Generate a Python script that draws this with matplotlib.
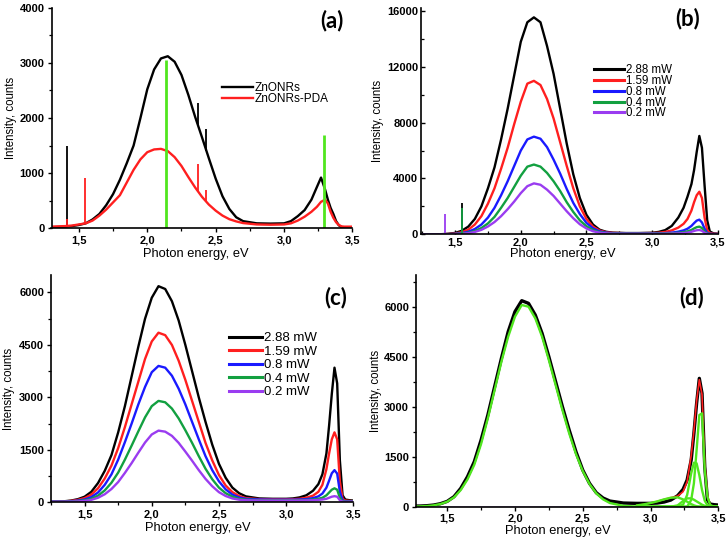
import matplotlib
matplotlib.use("Agg")
import matplotlib.pyplot as plt
from matplotlib.ticker import MultipleLocator, FuncFormatter

plt.rcParams['font.family'] = ['Liberation Sans', 'DejaVu Sans']

# ---------------- data ----------------
# photon energy grid (eV)
E = [1.25, 1.30, 1.35, 1.40, 1.45, 1.50, 1.55, 1.60, 1.65, 1.70,
     1.75, 1.80, 1.85, 1.90, 1.95, 2.00, 2.05, 2.10, 2.15, 2.20,
     2.25, 2.30, 2.35, 2.40, 2.45, 2.50, 2.55, 2.60, 2.65, 2.70,
     2.80, 2.90, 3.00, 3.05, 3.10, 3.15, 3.20, 3.24, 3.27, 3.30,
     3.32, 3.34, 3.36, 3.38, 3.40, 3.42, 3.44, 3.47, 3.50]

# panel (a)
a_labels = ["ZnONRs", "ZnONRs-PDA"]
a_znonrs = [20, 20, 25, 30, 40, 60, 90, 160, 260, 420,
            620, 880, 1180, 1500, 2000, 2520, 2880, 3080, 3120, 3020,
            2780, 2420, 2020, 1650, 1270, 900, 580, 350, 200, 130,
            90, 85, 90, 130, 220, 330, 520, 750, 920, 700,
            520, 370, 260, 130, 55, 20, 10, 10, 10]
a_pda = [30, 30, 35, 40, 50, 70, 90, 140, 230, 340,
         470, 600, 830, 1060, 1250, 1380, 1430, 1440, 1400, 1290,
         1130, 930, 740, 570, 430, 320, 230, 165, 125, 95,
         70, 65, 70, 90, 140, 210, 300, 390, 480, 520,
         450, 300, 190, 110, 60, 35, 30, 30, 30]
# narrow spikes: energy, bottom, top
a_spk_black_x = [1.41, 2.37, 2.43]
a_spk_black_lo = [30, 1850, 1400]
a_spk_black_hi = [1500, 2280, 1800]
a_spk_red_x = [1.41, 1.545, 2.37, 2.43]
a_spk_red_lo = [40, 90, 650, 470]
a_spk_red_hi = [160, 920, 1160, 700]
# green markers
a_mark_x = [2.14, 3.29]
a_mark_hi = [3050, 1700]

# panels (b), (c)
power_labels = ["2.88 mW", "1.59 mW", "0.8 mW", "0.4 mW", "0.2 mW"]

b_288 = [0, 0, 0, 10, 40, 100, 250, 550, 1100, 2000,
         3300, 4800, 6800, 9000, 11400, 13800, 15200, 15550, 15200, 13500,
         11500, 9000, 6500, 4300, 2600, 1400, 700, 330, 180, 120,
         90, 90, 110, 170, 300, 600, 1200, 1900, 2700, 3600,
         4600, 5900, 7050, 6200, 3500, 1000, 200, 60, 40]
b_159 = [0, 0, 0, 5, 20, 60, 150, 330, 700, 1300,
         2200, 3300, 4700, 6200, 7900, 9500, 10800, 11000, 10700, 9700,
         8300, 6600, 4900, 3300, 2000, 1100, 550, 270, 150, 100,
         80, 80, 90, 110, 170, 280, 480, 750, 1100, 1700,
         2300, 2800, 3050, 2600, 1200, 300, 100, 40, 30]
b_08 = [0, 0, 0, 5, 10, 30, 80, 180, 380, 700,
        1200, 1900, 2800, 3800, 4900, 6000, 6800, 7000, 6850, 6250,
        5350, 4350, 3250, 2250, 1450, 820, 430, 210, 120, 80,
        60, 60, 60, 70, 85, 120, 190, 280, 400, 600,
        800, 980, 1050, 850, 400, 100, 40, 20, 20]
b_04 = [0, 0, 0, 5, 10, 20, 50, 110, 230, 450,
        780, 1250, 1900, 2600, 3400, 4200, 4850, 5000, 4850, 4400,
        3800, 3100, 2300, 1600, 1000, 580, 300, 150, 90, 60,
        50, 50, 50, 55, 60, 75, 105, 150, 210, 310,
        420, 510, 550, 450, 200, 60, 20, 10, 10]
b_02 = [0, 0, 0, 5, 10, 15, 35, 80, 170, 320,
        560, 880, 1300, 1800, 2350, 2950, 3450, 3650, 3550, 3200,
        2750, 2200, 1650, 1150, 720, 420, 220, 120, 70, 50,
        40, 40, 40, 40, 45, 50, 65, 90, 120, 180,
        240, 290, 310, 250, 110, 40, 15, 10, 10]
b_spk_x = [1.55, 1.55, 1.42]
b_spk_lo = [250, 50, 0]
b_spk_hi = [2250, 1850, 1450]
b_spk_series = [0, 3, 4]

c_288 = [20, 20, 30, 50, 90, 160, 300, 550, 900, 1350,
         2000, 2750, 3600, 4450, 5250, 5850, 6180, 6100, 5750, 5200,
         4500, 3750, 3000, 2300, 1650, 1100, 700, 420, 260, 170,
         110, 100, 100, 110, 140, 200, 330, 520, 800, 1400,
         2200, 3100, 3850, 3400, 1200, 200, 80, 60, 50]
c_159 = [20, 20, 25, 40, 70, 120, 220, 400, 680, 1050,
         1550, 2150, 2800, 3450, 4100, 4600, 4850, 4780, 4500, 4050,
         3500, 2900, 2300, 1700, 1200, 780, 480, 290, 180, 120,
         90, 85, 85, 90, 100, 130, 190, 300, 500, 950,
         1400, 1800, 2000, 1800, 600, 100, 50, 40, 30]
c_08 = [20, 20, 20, 30, 50, 80, 150, 280, 500, 800,
        1220, 1720, 2250, 2800, 3300, 3720, 3900, 3850, 3620, 3250,
        2800, 2300, 1800, 1320, 920, 600, 370, 220, 140, 100,
        80, 75, 75, 75, 80, 90, 120, 170, 250, 420,
        620, 830, 920, 820, 300, 60, 30, 25, 20]
c_04 = [15, 15, 15, 20, 35, 55, 100, 190, 340, 560,
        850, 1220, 1620, 2030, 2430, 2750, 2900, 2860, 2680, 2400,
        2060, 1700, 1320, 960, 660, 420, 260, 160, 100, 75,
        60, 60, 60, 60, 60, 65, 80, 100, 130, 200,
        280, 360, 400, 360, 130, 30, 20, 15, 15]
c_02 = [15, 15, 15, 20, 25, 40, 70, 130, 230, 380,
        580, 840, 1120, 1420, 1710, 1940, 2050, 2020, 1900, 1700,
        1450, 1190, 920, 670, 460, 290, 180, 110, 75, 60,
        50, 50, 50, 50, 50, 55, 60, 70, 80, 100,
        130, 160, 175, 160, 60, 20, 15, 15, 15]

# panel (d): measured = 2.88 mW spectrum of (c); Gaussian fit components
d_fit_main = [5, 10, 20, 40, 80, 150, 280, 500, 820, 1260,
              1880, 2650, 3500, 4350, 5100, 5700, 6050, 6000, 5650, 5100,
              4400, 3650, 2900, 2200, 1580, 1070, 680, 400, 220, 110,
              25, 5, 0, 0, 0, 0, 0, 0, 0, 0,
              0, 0, 0, 0, 0, 0, 0, 0, 0]
E_uv = [2.90, 2.95, 3.00, 3.05, 3.10, 3.15, 3.20, 3.24, 3.27, 3.30,
        3.32, 3.34, 3.36, 3.38, 3.40, 3.42, 3.44, 3.47, 3.50]
d_c1 = [40, 70, 110, 160, 220, 270, 280, 220, 150, 80, 40, 15, 0, 0, 0, 0, 0, 0, 0]
d_c2 = [0, 0, 0, 0, 0, 0, 40, 170, 250, 250, 210, 160, 110, 60, 25, 5, 0, 0, 0]
d_c3 = [0, 0, 0, 0, 0, 0, 0, 60, 350, 1000, 1320, 1300, 950, 500, 180, 40, 0, 0, 0]
d_c4 = [0, 0, 0, 0, 0, 0, 0, 0, 0, 200, 700, 1700, 2750, 2800, 1100, 300, 50, 0, 0]
d_sum = [40, 70, 110, 160, 220, 270, 320, 450, 750, 1530,
         2270, 3175, 3810, 3360, 1305, 345, 50, 0, 0]
d_base_x = [1.25, 3.5]
d_base_y = [0, 0]

# ---------------- style ----------------
BLACK = '#000000'
RED = '#ff1f1f'
BLUE = '#1a1aff'
GREEN = '#12a040'
PURPLE = '#9a3cf0'
LIME = '#50e61e'
series_colors = [BLACK, RED, BLUE, GREEN, PURPLE]
LW = 1.7

W, H = 728, 540
fig = plt.figure(figsize=(W / 100, H / 100), dpi=100)


def make_axes(x0, x1, ytop, ybot):
    return fig.add_axes([x0 / W, 1 - ybot / H, (x1 - x0) / W, (ybot - ytop) / H])


comma = FuncFormatter(lambda v, p: f"{v:.1f}".replace('.', ','))


def style(ax, xlim, ylim, ymaj, ymin, direction, ylab_x, xlab_y, xlab_x=0.48):
    ax.set_xlim(*xlim)
    ax.set_ylim(*ylim)
    for s in ['top', 'right']:
        ax.spines[s].set_visible(False)
    for s in ['left', 'bottom']:
        ax.spines[s].set_linewidth(1.2)
    ax.xaxis.set_major_locator(MultipleLocator(0.5))
    ax.xaxis.set_minor_locator(MultipleLocator(0.25))
    ax.xaxis.set_major_formatter(comma)
    ax.yaxis.set_major_locator(MultipleLocator(ymaj))
    ax.yaxis.set_minor_locator(MultipleLocator(ymin))
    ax.tick_params(which='major', direction=direction, length=3, width=1.0,
                   labelsize=8, pad=2)
    ax.tick_params(which='minor', direction=direction, length=2, width=0.9)
    for t in ax.get_xticklabels() + ax.get_yticklabels():
        t.set_fontweight('bold')
    ax.set_ylabel("Intensity, counts", fontsize=8.3)
    ax.set_xlabel("Photon energy, eV", fontsize=9.3)
    ax.yaxis.set_label_coords(ylab_x, 0.5)
    ax.xaxis.set_label_coords(xlab_x, xlab_y)


# ---- (a)
axa = make_axes(51.5, 352.5, 7.7, 228.3)
axa.plot(E, a_znonrs, color=BLACK, lw=LW, label=a_labels[0])
axa.vlines(a_spk_black_x, a_spk_black_lo, a_spk_black_hi, color=BLACK, lw=1.3)
axa.plot(E, a_pda, color=RED, lw=LW, label=a_labels[1])
axa.vlines(a_spk_red_x, a_spk_red_lo, a_spk_red_hi, color=RED, lw=1.3)
axa.vlines(a_mark_x, [0, 0], a_mark_hi, color=LIME, lw=2.0)
style(axa, (1.3, 3.5), (0, 4000), 1000, 500, 'out', -0.115, -0.09)
leg = axa.legend(loc='upper left', bbox_to_anchor=(222 / W, 1 - 82 / H),
                 bbox_transform=fig.transFigure, frameon=False, fontsize=8.5,
                 handlelength=2.6, handletextpad=0.15, labelspacing=-0.05,
                 borderpad=0, borderaxespad=0)
axa.text(332 / W, 1 - 21 / H, "(a)", transform=fig.transFigure, ha='center',
         va='center', fontsize=16, fontweight='bold', family='Lato')

# ---- (b)
axb = make_axes(421, 717.7, 8.3, 234.3)
b_series = [b_288, b_159, b_08, b_04, b_02]
for ys, c, lab in zip(b_series, series_colors, power_labels):
    axb.plot(E, ys, color=c, lw=LW, label=lab)
for x, lo, hi, si in zip(b_spk_x, b_spk_lo, b_spk_hi, b_spk_series):
    axb.vlines(x, lo, hi, color=series_colors[si], lw=1.3)
style(axb, (1.24, 3.5), (0, 16200), 4000, 2000, 'in', -0.125, -0.062, 0.477)
leg = axb.legend(loc='upper left', bbox_to_anchor=(594 / W, 1 - 64 / H),
                 bbox_transform=fig.transFigure, frameon=False, fontsize=8.3,
                 handlelength=2.6, handletextpad=0.15, labelspacing=-0.1,
                 borderpad=0, borderaxespad=0)
for l in leg.get_lines():
    l.set_linewidth(2.2)
axb.text(688 / W, 1 - 19 / H, "(b)", transform=fig.transFigure, ha='center',
         va='center', fontsize=16, fontweight='bold', family='Lato')

# ---- (c)
axc = make_axes(51, 353.3, 275, 502.3)
c_series = [c_288, c_159, c_08, c_04, c_02]
for ys, c, lab in zip(c_series, series_colors, power_labels):
    axc.plot(E, ys, color=c, lw=LW, label=lab)
style(axc, (1.25, 3.5), (0, 6500), 1500, 750, 'out', -0.118, -0.088, 0.487)
leg = axc.legend(loc='upper left', bbox_to_anchor=(229 / W, 1 - 332 / H),
                 bbox_transform=fig.transFigure, frameon=False, fontsize=9.5,
                 handlelength=2.5, handletextpad=0.15, labelspacing=0.1,
                 borderpad=0, borderaxespad=0)
for l in leg.get_lines():
    l.set_linewidth(2.2)
axc.text(336 / W, 1 - 298 / H, "(c)", transform=fig.transFigure, ha='center',
         va='center', fontsize=16, fontweight='bold', family='Lato')

# ---- (d)
axd = make_axes(416, 718.3, 275, 506.7)
axd.plot(E, c_288, color=BLACK, lw=2.4)
axd.plot(E_uv, d_sum, color=RED, lw=1.2)
axd.plot(d_base_x, d_base_y, color='#c8a0f0', lw=1.2)
axd.plot(E, d_fit_main, color=LIME, lw=LW)
for comp in [d_c1, d_c2, d_c3, d_c4]:
    axd.plot(E_uv, comp, color=LIME, lw=LW)
style(axd, (1.27, 3.5), (0, 6950), 1500, 750, 'out', -0.112, -0.08, 0.47)
axd.text(692 / W, 1 - 298 / H, "(d)", transform=fig.transFigure, ha='center',
         va='center', fontsize=16, fontweight='bold', family='Lato')

fig.savefig("out.png", dpi=100)
